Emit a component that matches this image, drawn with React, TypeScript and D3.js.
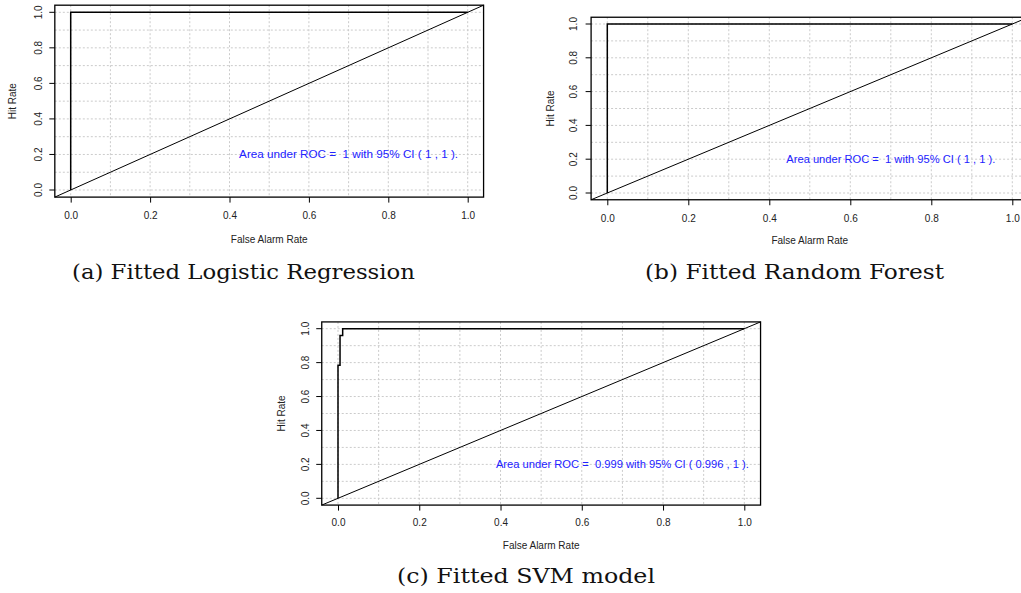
import { useEffect, useRef } from "react";
import * as d3 from "d3";

// axis ticks and grid
const tickValues = [0, 0.2, 0.4, 0.6, 0.8, 1.0];
const gridValues = [0, 0.1, 0.2, 0.3, 0.4, 0.5, 0.6, 0.7, 0.8, 0.9, 1.0];

// ROC curves (false alarm rate, hit rate)
const logitFpr = [0, 0, 1];
const logitTpr = [0, 1, 1];
const rfFpr = [0, 0, 1];
const rfTpr = [0, 1, 1];
const svmFpr = [0, 0, 0.005, 0.005, 0.0115, 0.0115, 1];
const svmTpr = [0, 0.785, 0.785, 0.96, 0.96, 1, 1];

const captions = ["(a) Fitted Logistic Regression", "(b) Fitted Random Forest", "(c) Fitted SVM model"];
const aucTexts = [
  "Area under ROC =  1 with 95% CI ( 1 , 1 ).",
  "Area under ROC =  1 with 95% CI ( 1 , 1 ).",
  "Area under ROC =  0.999 with 95% CI ( 0.996 , 1 ).",
];

type PanelProps = {
  fpr: number[];
  tpr: number[];
  auc: string;
  aucW: number;
  caption: string;
  x0: number; x1: number; y0: number; y1: number;
  yLabX: number; hitX: number; xLabY: number; titleY: number;
  capX: number; capY: number; capW: number;
};

function Panel(p: PanelProps) {
  const ref = useRef<SVGGElement>(null);

  useEffect(() => {
    const g = d3.select(ref.current);
    g.selectAll("*").remove();
    const lim: [number, number] = [-0.04, 1.04];
    const x = d3.scaleLinear().domain([0, 1]).range([p.x0, p.x1]);
    const y = d3.scaleLinear().domain([0, 1]).range([p.y0, p.y1]);
    const left = x(lim[0]), right = x(lim[1]), top = y(lim[1]), bottom = y(lim[0]);
    const font = "'Liberation Sans', Arial, Helvetica, sans-serif";

    // grid
    g.append("g").selectAll("line").data(gridValues).join("line")
      .attr("x1", d => x(d)).attr("x2", d => x(d)).attr("y1", top).attr("y2", bottom)
      .attr("stroke", "#cbcbcb").attr("stroke-dasharray", "2,2");
    g.append("g").selectAll("line").data(gridValues).join("line")
      .attr("y1", d => y(d)).attr("y2", d => y(d)).attr("x1", left).attr("x2", right)
      .attr("stroke", "#cbcbcb").attr("stroke-dasharray", "2,2");

    // diagonal
    g.append("line")
      .attr("x1", x(lim[0])).attr("y1", y(lim[0])).attr("x2", x(lim[1])).attr("y2", y(lim[1]))
      .attr("stroke", "#000").attr("stroke-width", 1);

    // roc curve
    const line = d3.line<number>().x(d => x(p.fpr[d])).y(d => y(p.tpr[d]));
    g.append("path").datum(d3.range(p.fpr.length))
      .attr("d", line).attr("fill", "none").attr("stroke", "#000").attr("stroke-width", 1.5);

    // auc text
    g.append("text").attr("x", x(0.7)).attr("y", y(0.2) + 4)
      .attr("text-anchor", "middle").attr("fill", "#2222ff")
      .attr("textLength", p.aucW).attr("lengthAdjust", "spacingAndGlyphs")
      .style("white-space", "pre")
      .style("font-family", font).style("font-size", "11px").text(p.auc);

    // box
    g.append("rect").attr("x", left).attr("y", top).attr("width", right - left).attr("height", bottom - top)
      .attr("fill", "none").attr("stroke", "#000").attr("stroke-width", 1.3);

    // axes
    const xa = g.append("g").attr("transform", `translate(0,${bottom})`)
      .call(d3.axisBottom(x).tickValues(tickValues).tickFormat(d3.format(".1f")).tickSize(5.5).tickPadding(0));
    xa.select(".domain").remove();
    xa.selectAll("text").attr("y", null).attr("dy", null)
      .attr("transform", `translate(0,${p.xLabY - bottom})`)
      .style("font-family", font).style("font-size", "10px").attr("fill", "#222");
    xa.selectAll("line").attr("stroke", "#000");

    const ya = g.append("g").attr("transform", `translate(${left},0)`)
      .call(d3.axisLeft(y).tickValues(tickValues).tickFormat(d3.format(".1f")).tickSize(5.5));
    ya.select(".domain").remove();
    ya.selectAll(".tick").attr("transform", null);
    ya.selectAll(".tick line").attr("stroke", "#000")
      .attr("y1", (d: any) => y(d)).attr("y2", (d: any) => y(d));
    ya.selectAll("text").attr("x", null).attr("dy", null).attr("y", 0)
      .attr("text-anchor", "middle")
      .attr("transform", (d: any) => `translate(${p.yLabX - left},${y(d)}) rotate(-90)`)
      .style("font-family", font).style("font-size", "10px").attr("fill", "#222");

    // titles
    g.append("text").attr("x", (left + right) / 2).attr("y", p.titleY)
      .attr("text-anchor", "middle").style("font-family", font).style("font-size", "10px")
      .attr("fill", "#222").text("False Alarm Rate");
    g.append("text").attr("transform", `translate(${p.hitX},${(top + bottom) / 2}) rotate(-90)`)
      .attr("text-anchor", "middle").style("font-family", font).style("font-size", "10px")
      .attr("fill", "#222").text("Hit Rate");

    // caption
    g.append("text").attr("x", p.capX).attr("y", p.capY).attr("text-anchor", "middle")
      .attr("textLength", p.capW).attr("lengthAdjust", "spacingAndGlyphs")
      .style("font-family", "'DejaVu Serif', 'Liberation Serif', serif").style("font-size", "20px")
      .attr("fill", "#111").text(p.caption);
  }, [p]);

  return <g ref={ref} />;
}

export default function App() {
  return (
    <svg width={1021} height={593} style={{ position: "absolute", left: 0, top: 0, background: "#fff" }}>
      <Panel fpr={logitFpr} tpr={logitTpr} auc={aucTexts[0]} aucW={219} caption={captions[0]}
        x0={70.7} x1={467.7} y0={190} y1={12.3}
        yLabX={42} hitX={16} xLabY={219} titleY={243}
        capX={243.5} capY={279} capW={343} />
      <Panel fpr={rfFpr} tpr={rfTpr} auc={aucTexts[1]} aucW={209} caption={captions[1]}
        x0={607.3} x1={1012.3} y0={193} y1={24}
        yLabX={577} hitX={554} xLabY={222} titleY={244}
        capX={794.5} capY={279} capW={299} />
      <Panel fpr={svmFpr} tpr={svmTpr} auc={aucTexts[2]} aucW={253} caption={captions[2]}
        x0={338} x1={744.3} y0={498.3} y1={328.7}
        yLabX={309} hitX={285} xLabY={525.5} titleY={549}
        capX={526} capY={583} capW={258} />
    </svg>
  );
}
